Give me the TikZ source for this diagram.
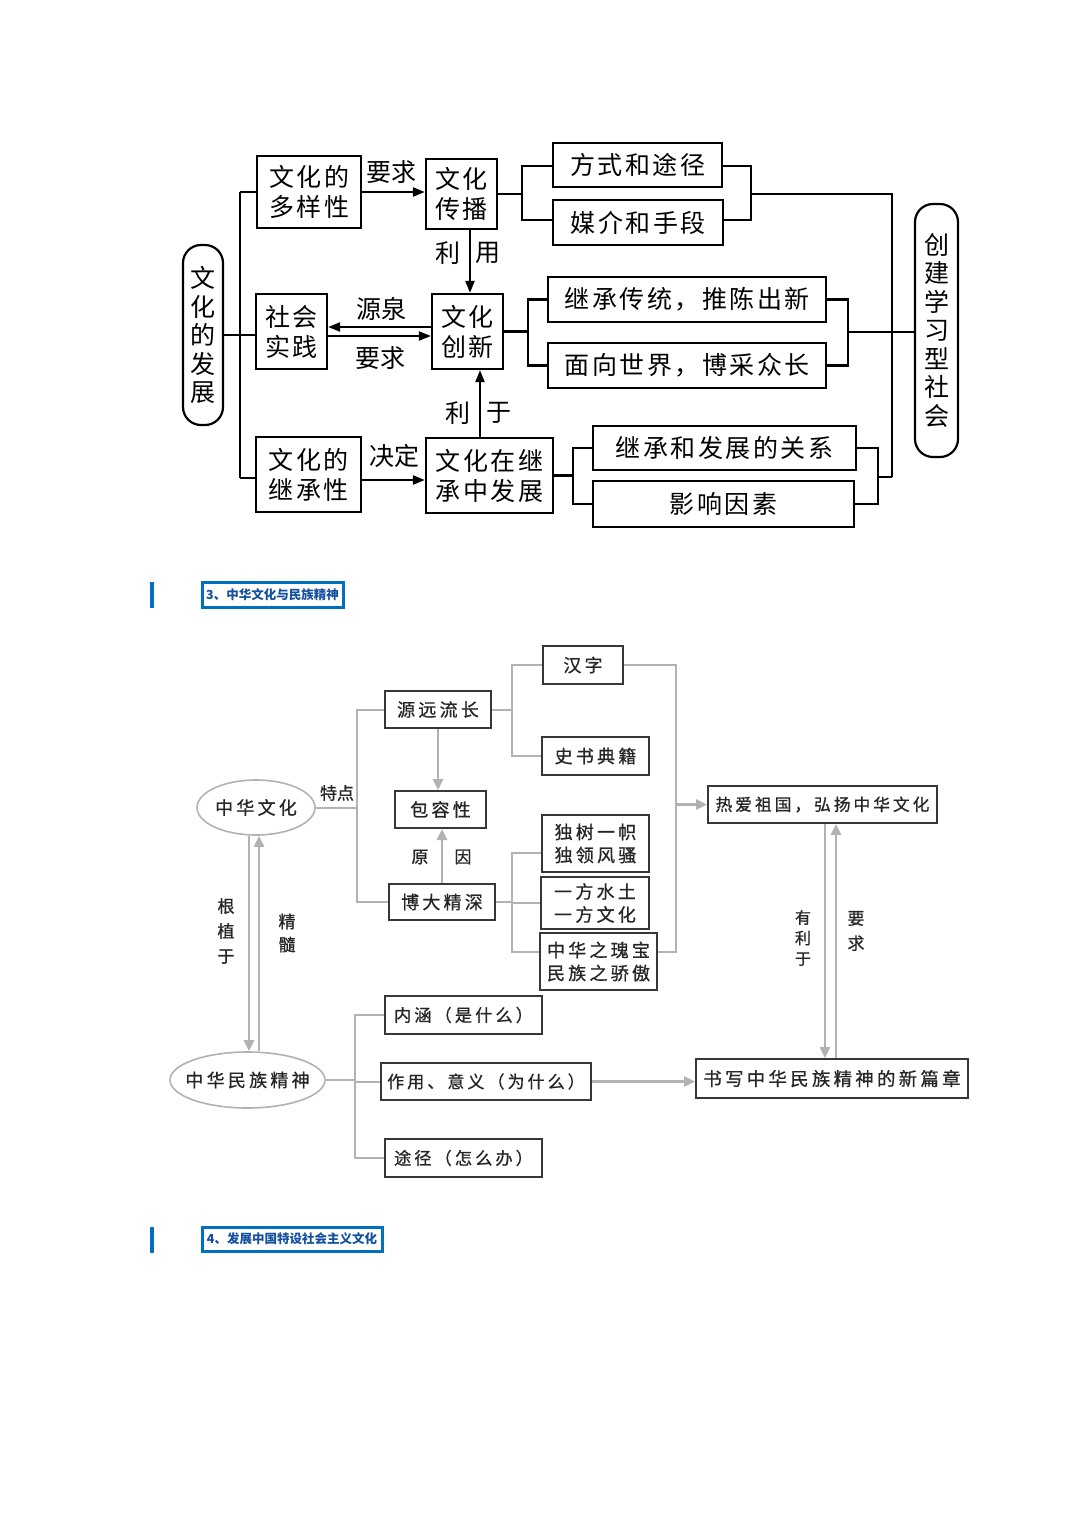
\documentclass[tikz,border=0pt]{standalone}
\usepackage{fontspec}
\newfontfamily\cjk{Noto Sans CJK SC}
\newfontfamily\cjkt[LetterSpace=10]{Noto Sans CJK SC}
\newfontfamily\cjks[LetterSpace=18,FakeBold=0.8]{Noto Sans CJK SC}
\newfontfamily\cjkb[FakeBold=0.8]{Noto Sans CJK SC}
\usetikzlibrary{arrows.meta,shapes.geometric}
\definecolor{hblue}{RGB}{0,112,192}
\definecolor{htext}{RGB}{20,80,160}
\definecolor{lgray}{RGB}{178,178,178}
\definecolor{dgray}{RGB}{55,55,55}
\tikzset{
  tbox/.style={draw=black, line width=2.2pt, inner sep=0pt, align=center, font=\cjkt\fontsize{25}{30}\selectfont},
  tround/.style={tbox, rounded corners=18pt, font=\cjk\fontsize{25}{28.5}\selectfont},
  tline/.style={draw=black, line width=2.2pt},
  tarr/.style={tline, -{Triangle[length=12pt,width=9pt]}},
  tlab/.style={inner sep=0pt, font=\cjk\fontsize{25}{30}\selectfont},
  bbox/.style={draw=dgray, line width=2pt, inner sep=0pt, align=center, text=black!85, font=\cjks\fontsize{18}{23}\selectfont},
  bell/.style={ellipse, draw=lgray, line width=1.6pt, inner sep=0pt, text=black!85, font=\cjks\fontsize{18}{23}\selectfont},
  bline/.style={draw=lgray, line width=2pt},
  barr/.style={draw=lgray, line width=2.6pt, -{Triangle[length=11pt,width=10pt]}},
  blab/.style={inner sep=0pt, align=center, text=black!85, font=\cjkb\fontsize{17}{25}\selectfont},
  hdr/.style={draw=hblue, line width=3pt, fill=white, inner sep=0pt, text=htext, font=\cjk\bfseries\fontsize{12.5}{14}\selectfont},
}
\begin{document}
\begin{tikzpicture}[x=1pt,y=-1pt]
\useasboundingbox (0,0) rectangle (1080,1527);
\fill[white] (0,0) rectangle (1080,1527);

%% ---------- top diagram ----------
\node[tround, minimum width=40pt, minimum height=180pt] (dev) at (203,335) {文\\化\\的\\发\\展};
\node[tbox, minimum width=104pt, minimum height=72pt] (dys) at (309,192) {文化的\\多样性};
\node[tbox, minimum width=71pt, minimum height=70pt] (cb) at (461.5,194) {文化\\传播};
\node[tbox, minimum width=71pt, minimum height=75pt] (sj) at (291.5,331.5) {社会\\实践};
\node[tbox, minimum width=71pt, minimum height=75pt] (cx) at (467.5,331.5) {文化\\创新};
\node[tbox, minimum width=105pt, minimum height=75pt] (jcx) at (308.5,474.5) {文化的\\继承性};
\node[tbox, minimum width=127pt, minimum height=75pt] (zfz) at (489.5,475.5) {文化在继\\承中发展};
\node[tbox, minimum width=169pt, minimum height=44pt] (fs) at (637.5,165) {方式和途径};
\node[tbox, minimum width=170pt, minimum height=45pt] (mj) at (638,222.5) {媒介和手段};
\node[tbox, minimum width=278pt, minimum height=45pt] (jc) at (687,299.5) {继承传统，推陈出新};
\node[tbox, minimum width=278pt, minimum height=45pt] (mx) at (687,365.5) {面向世界，博采众长};
\node[tbox, minimum width=263pt, minimum height=44pt] (gx) at (724.5,448) {继承和发展的关系};
\node[tbox, minimum width=261pt, minimum height=46pt] (yx) at (723.5,504) {影响因素};
\node[tround, minimum width=43pt, minimum height=253pt] (xx) at (936.5,330.5) {创\\建\\学\\习\\型\\社\\会};

\coordinate (L1) at (240,192);
\coordinate (L2) at (240,478);
\draw[tline] (L1) -- (L2);
\draw[tline] (L1) -- (L1 -| dys.west);
\draw[tline] (L2) -- (L2 -| jcx.west);
\draw[tline] (dev.east) -- (dev.east -| sj.west);

\coordinate (v1) at (470,0);
\coordinate (v2) at (480,0);
\coordinate (h1) at (0,327);
\coordinate (h2) at (0,336);
\coordinate (h3) at (0,480);
\draw[tarr] (dys.east) -- (dys.east -| cb.west);
\draw[tarr] (cb.south -| v1) -- (cx.north -| v1);
\draw[tarr] (cx.west |- h1) -- (sj.east |- h1);
\draw[tarr] (sj.east |- h2) -- (cx.west |- h2);
\draw[tarr] (jcx.east |- h3) -- (zfz.west |- h3);
\draw[tarr] (zfz.north -| v2) -- (cx.south -| v2);

\node[tlab] (lyq1) at (391,172) {要求};
\node[tlab] (lli1) at (448,253) {利};
\node[tlab] (lyong) at (488,253) {用};
\node[tlab] (lyq) at (381,309) {源泉};
\node[tlab] (lyq2) at (380,358) {要求};
\node[tlab] (ljd) at (394,456) {决定};
\node[tlab] (lli2) at (458,413) {利};
\node[tlab] (lyu) at (499,413) {于};

\coordinate (k1a) at (522,166);
\coordinate (k1b) at (522,220);
\draw[tline] (cb.east) -- (cb.east -| k1a);
\draw[tline] (fs.west |- k1a) -- (k1a) -- (k1b) -- (mj.west |- k1b);
\coordinate (k2a) at (751,166);
\coordinate (k2b) at (751,220);
\coordinate (k2m) at (751,194);
\coordinate (T1) at (892,194);
\coordinate (T2) at (892,477);
\draw[tline] (fs.east |- k2a) -- (k2a) -- (k2b) -- (mj.east |- k2b);
\draw[tline] (k2m) -- (T1) -- (T2);

\coordinate (k3a) at (528,299.5);
\coordinate (k3b) at (528,365.5);
\draw[tline] (cx.east) -- (cx.east -| k3a);
\draw[tline] (jc.west) -- (k3a) -- (k3b) -- (mx.west);
\coordinate (k4a) at (848,299.5);
\coordinate (k4b) at (848,365.5);
\coordinate (k4m) at (848,332);
\draw[tline] (jc.east) -- (k4a) -- (k4b) -- (mx.east);
\draw[tline] (k4m) -- (k4m -| xx.west);

\coordinate (k5a) at (573,448);
\coordinate (k5b) at (573,504);
\draw[tline] (zfz.east) -- (zfz.east -| k5a);
\draw[tline] (gx.west) -- (k5a) -- (k5b) -- (yx.west);
\coordinate (k6a) at (878,448);
\coordinate (k6b) at (878,504);
\coordinate (k6m) at (878,477);
\draw[tline] (gx.east) -- (k6a) -- (k6b) -- (yx.east);
\draw[tline] (k6m) -- (T2);

%% ---------- headers ----------
\fill[hblue] (150,582) rectangle (154,608);
\node[hdr, minimum width=141pt, minimum height=25pt] (hd3) at (272.5,594.5) {3、中华文化与民族精神};
\fill[hblue] (150,1227) rectangle (154,1253);
\node[hdr, minimum width=180pt, minimum height=24pt] (hd4) at (292,1239) {4、发展中国特设社会主义文化};

%% ---------- bottom diagram ----------
\node[bell, minimum width=118pt, minimum height=55pt] (zhwh) at (256,807.5) {\makebox[0pt]{中华文化}};
\node[bell, minimum width=155pt, minimum height=56pt] (mzjs) at (247.5,1080) {\makebox[0pt]{中华民族精神}};
\node[bbox, minimum width=106pt, minimum height=37pt] (yylc) at (438,709.5) {源远流长};
\node[bbox, minimum width=91pt, minimum height=37pt] (brx) at (440.5,809.5) {包容性};
\node[bbox, minimum width=106pt, minimum height=36pt] (bdjs) at (442,902) {博大精深};
\node[bbox, minimum width=80pt, minimum height=38pt] (hz) at (583,665) {汉字};
\node[bbox, minimum width=107pt, minimum height=38pt] (ssdj) at (595.5,756) {史书典籍};
\node[bbox, minimum width=107pt, minimum height=57pt] (dsyz) at (595.5,843.5) {独树一帜\\独领风骚};
\node[bbox, minimum width=108pt, minimum height=52pt] (yfst) at (595,903) {一方水土\\一方文化};
\node[bbox, minimum width=117pt, minimum height=57pt] (zhzgb) at (598.5,961.5) {中华之瑰宝\\民族之骄傲};
\node[bbox, minimum width=229pt, minimum height=37pt, font=\cjks\fontsize{16.7}{20}\selectfont] (ragz) at (822.5,804.5) {热爱祖国，弘扬中华文化};
\node[bbox, minimum width=157pt, minimum height=38pt, font=\cjks\fontsize{17.2}{20}\selectfont] (nh) at (463.5,1015) {内涵（是什么）};
\node[bbox, minimum width=210pt, minimum height=37pt, font=\cjks\fontsize{17}{20}\selectfont] (zy) at (486,1081.5) {作用、意义（为什么）};
\node[bbox, minimum width=157pt, minimum height=38pt, font=\cjks\fontsize{17.2}{20}\selectfont] (tj) at (463.5,1158) {途径（怎么办）};
\node[bbox, minimum width=272pt, minimum height=39pt, font=\cjks\fontsize{18.4}{20}\selectfont] (sx) at (832,1078.5) {书写中华民族精神的新篇章};

\coordinate (b1t) at (357,709.5);
\coordinate (b1b) at (357,902);
\draw[bline] (zhwh.east) -- (zhwh.east -| b1t);
\draw[bline] (yylc.west) -- (b1t) -- (b1b) -- (bdjs.west);
\node[blab] (ltd) at (337,793) {特点};

\draw[barr] (yylc.south) -- (yylc.south |- brx.north);
\draw[barr] (bdjs.north) -- (bdjs.north |- brx.south);
\node[blab] (lyuan) at (420,857) {原};
\node[blab] (lyin) at (463,857) {因};

\coordinate (c1t) at (512,665);
\coordinate (c1b) at (512,756);
\draw[bline] (yylc.east) -- (yylc.east -| c1t);
\draw[bline] (hz.west) -- (c1t) -- (c1b) -- (ssdj.west);
\coordinate (c2t) at (512,853);
\coordinate (c2b) at (512,952);
\draw[bline] (bdjs.east) -- (bdjs.east -| c2t);
\draw[bline] (c2t -| dsyz.west) -- (c2t) -- (c2b) -- (c2b -| zhzgb.west);
\draw[bline] (c2t |- yfst.west) -- (yfst.west);

\coordinate (r1t) at (676,665);
\coordinate (r1b) at (676,952);
\coordinate (ra) at (676,804.5);
\draw[bline] (hz.east) -- (r1t) -- (r1b) -- (r1b -| zhzgb.east);
\draw[barr] (ra) -- (ra -| ragz.west);

\coordinate (d1) at (825,0);
\coordinate (d2) at (836,0);
\draw[barr] (ragz.south -| d1) -- (sx.north -| d1);
\draw[barr] (sx.north -| d2) -- (ragz.south -| d2);
\node[blab, font=\cjkb\fontsize{16}{20.5}\selectfont] (lylu) at (803,938) {有\\利\\于};
\node[blab] (lyq3) at (856,931) {要\\求};

\coordinate (e1) at (249,0);
\coordinate (e2) at (259,0);
\draw[barr] (zhwh.south -| e1) -- (mzjs.north -| e1);
\draw[barr] (mzjs.north -| e2) -- (zhwh.south -| e2);
\node[blab] (lgzy) at (226,931) {根\\植\\于};
\node[blab, font=\cjkb\fontsize{17}{23}\selectfont] (ljs) at (287,933) {精\\髓};

\coordinate (g1t) at (355,1015);
\coordinate (g1b) at (355,1158);
\draw[bline] (mzjs.east) -- (mzjs.east -| g1t);
\draw[bline] (nh.west) -- (g1t) -- (g1b) -- (tj.west);
\draw[bline] (zy.west -| g1t) -- (zy.west);
\draw[barr] (zy.east) -- (zy.east -| sx.west);
\end{tikzpicture}
\end{document}
